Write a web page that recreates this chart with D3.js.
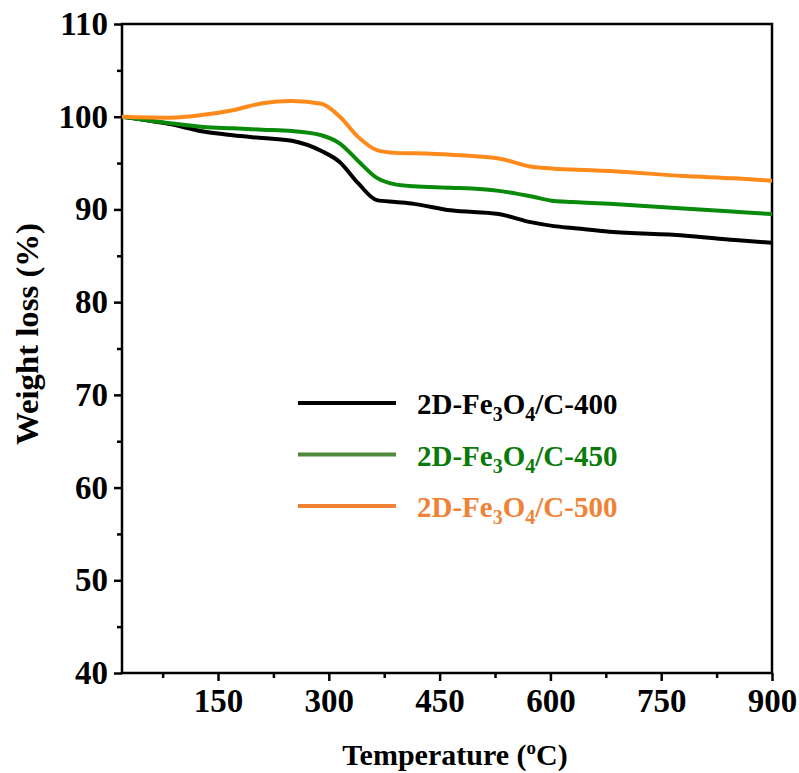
<!DOCTYPE html>
<html>
<head>
<meta charset="utf-8">
<script src="https://cdn.jsdelivr.net/npm/d3@7"></script>
<style>
  body { margin: 0; background: #fff; }
  svg { display: block; font-family: "Liberation Serif", "Times New Roman", serif; font-weight: bold; }
  .axis path { display: none; }
  .axis line { stroke: #000; stroke-width: 2.5; }
  .axis text { font-family: "Liberation Serif", serif; font-weight: bold; font-size: 33px; fill: #000; }
</style>
</head>
<body>
<div id="chart"></div>
<script>
// temperatures (ºC) shared by all three samples
var temps = [20, 85, 130, 170, 210, 250, 290, 315, 340, 365, 390, 415, 465, 530, 575, 605, 630, 680, 780, 850, 900];

var loss400 = [100, 99.2, 98.4, 98.0, 97.7, 97.4, 96.3, 95.1, 92.8, 91.0, 90.8, 90.6, 89.9, 89.5, 88.6, 88.2, 88.0, 87.6, 87.2, 86.7, 86.4];
var loss450 = [100, 99.3, 98.9, 98.75, 98.6, 98.45, 98.0, 97.1, 95.2, 93.4, 92.7, 92.5, 92.35, 92.0, 91.4, 90.9, 90.8, 90.6, 90.1, 89.75, 89.5];
var loss500 = [100, 99.9, 100.2, 100.7, 101.45, 101.7, 101.4, 100.0, 97.8, 96.4, 96.1, 96.05, 95.9, 95.5, 94.6, 94.4, 94.3, 94.15, 93.6, 93.35, 93.1];

var seriesNames = ["400", "450", "500"];
var lineColors = ["#000000", "#0a8a0a", "#ff8a1c"];
var legendLineColors = ["#000000", "#4e8a3a", "#f08236"];
var legendTextColors = ["#000000", "#0a7a0a", "#f08236"];

var xTicks = [150, 300, 450, 600, 750, 900];
var xMinor = [75, 225, 375, 525, 675, 825];
var yTicks = [40, 50, 60, 70, 80, 90, 100, 110];
var yMinor = [45, 55, 65, 75, 85, 95, 105];

var width = 799, height = 773,
    margin = { top: 24, right: 27, bottom: 100, left: 122 };

var svg = d3.select("#chart").append("svg")
    .attr("width", width)
    .attr("height", height);

var x = d3.scaleLinear().domain([20, 900]).range([margin.left, width - margin.right]);
var y = d3.scaleLinear().domain([40, 110]).range([height - margin.bottom, margin.top]);

var x0 = x.range()[0], x1 = x.range()[1], y0 = y.range()[0], y1 = y.range()[1];

// minor ticks
svg.append("g").attr("class", "axis")
    .attr("transform", "translate(0," + y0 + ")")
    .call(d3.axisBottom(x).tickValues(xMinor).tickSize(5).tickSizeOuter(0).tickFormat(""));
svg.append("g").attr("class", "axis")
    .attr("transform", "translate(" + x0 + ",0)")
    .call(d3.axisLeft(y).tickValues(yMinor).tickSize(5).tickSizeOuter(0).tickFormat(""));

// major ticks
svg.append("g").attr("class", "axis")
    .attr("transform", "translate(0," + y0 + ")")
    .call(d3.axisBottom(x).tickValues(xTicks).tickSize(8).tickSizeOuter(0).tickPadding(8).tickFormat(d3.format("d")));
svg.append("g").attr("class", "axis")
    .attr("transform", "translate(" + x0 + ",0)")
    .call(d3.axisLeft(y).tickValues(yTicks).tickSize(8).tickSizeOuter(0).tickPadding(6).tickFormat(d3.format("d")));

// frame
svg.append("rect")
    .attr("x", x0).attr("y", y1)
    .attr("width", x1 - x0).attr("height", y0 - y1)
    .attr("fill", "none").attr("stroke", "#000").attr("stroke-width", 2.5);

// curves
var line = d3.line()
    .x(function (d) { return x(d[0]); })
    .y(function (d) { return y(d[1]); })
    .curve(d3.curveMonotoneX);

[loss400, loss450, loss500].forEach(function (vals, i) {
    svg.append("path")
        .datum(temps.map(function (t, j) { return [t, vals[j]]; }))
        .attr("fill", "none")
        .attr("stroke", lineColors[i])
        .attr("stroke-width", 4)
        .attr("stroke-linejoin", "round")
        .attr("d", line);
});

// legend
var legend = svg.append("g");
seriesNames.forEach(function (name, i) {
    var ly = 403 + i * 51.5;
    legend.append("line")
        .attr("x1", 298).attr("x2", 396)
        .attr("y1", ly).attr("y2", ly)
        .attr("stroke", legendLineColors[i]).attr("stroke-width", 4);
    var t = legend.append("text")
        .attr("x", 417).attr("y", ly + 11)
        .attr("fill", legendTextColors[i])
        .style("font-size", "29px");
    t.append("tspan").text("2D-Fe");
    t.append("tspan").attr("dy", 7).style("font-size", "20px").text("3");
    t.append("tspan").attr("dy", -7).text("O");
    t.append("tspan").attr("dy", 7).style("font-size", "20px").text("4");
    t.append("tspan").attr("dy", -7).text("/C-" + name);
});

// axis titles
var xt = svg.append("text")
    .attr("x", 455).attr("y", 765)
    .attr("text-anchor", "middle")
    .style("font-size", "30px");
xt.append("tspan").text("Temperature (");
xt.append("tspan").attr("dy", -11).style("font-size", "19px").text("o");
xt.append("tspan").attr("dy", 11).text("C)");

svg.append("text")
    .attr("transform", "translate(38,334) rotate(-90)")
    .attr("text-anchor", "middle")
    .attr("textLength", 222)
    .attr("lengthAdjust", "spacingAndGlyphs")
    .style("font-size", "31px")
    .text("Weight loss (%)");
</script>
</body>
</html>
